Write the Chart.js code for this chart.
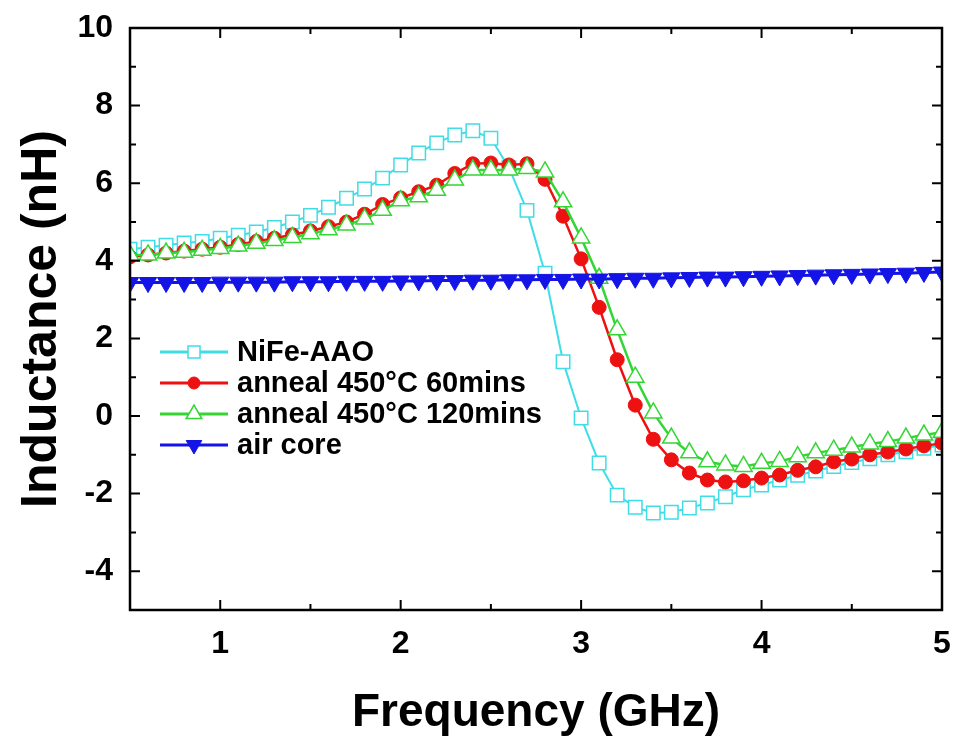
<!DOCTYPE html>
<html>
<head>
<meta charset="utf-8">
<title>Inductance vs Frequency</title>
<script src="https://cdn.jsdelivr.net/npm/chart.js"></script>
<style>
  html, body { margin: 0; padding: 0; background: #fff; }
  #wrap { width: 958px; height: 743px; }
</style>
</head>
<body>
<div id="wrap"><canvas id="inductChart" width="958" height="743"></canvas></div>
<script>
// Frecuencia (GHz)
const freq = [0.5, 0.6, 0.7, 0.8, 0.9, 1.0, 1.1, 1.2, 1.3, 1.4,
              1.5, 1.6, 1.7, 1.8, 1.9, 2.0, 2.1, 2.2, 2.3, 2.4,
              2.5, 2.6, 2.7, 2.8, 2.9, 3.0, 3.1, 3.2, 3.3, 3.4,
              3.5, 3.6, 3.7, 3.8, 3.9, 4.0, 4.1, 4.2, 4.3, 4.4,
              4.5, 4.6, 4.7, 4.8, 4.9, 5.0];

// Inductancia (nH) por muestra
const nifeAAO = [4.30, 4.35, 4.40, 4.46, 4.50, 4.58, 4.66, 4.74, 4.86, 5.00,
                 5.17, 5.38, 5.61, 5.85, 6.13, 6.47, 6.78, 7.04, 7.24, 7.35,
                 7.16, 6.40, 5.30, 3.68, 1.40, -0.05, -1.21, -2.04, -2.35, -2.50,
                 -2.48, -2.37, -2.24, -2.08, -1.90, -1.78, -1.65, -1.53, -1.42, -1.30,
                 -1.20, -1.10, -1.00, -0.92, -0.83, -0.75];

const anneal60 = [4.10, 4.15, 4.20, 4.25, 4.30, 4.35, 4.42, 4.50, 4.58, 4.67,
                  4.77, 4.88, 5.00, 5.20, 5.45, 5.62, 5.78, 5.95, 6.25, 6.50,
                  6.52, 6.47, 6.50, 6.10, 5.15, 4.05, 2.80, 1.45, 0.28, -0.60,
                  -1.13, -1.47, -1.65, -1.70, -1.67, -1.60, -1.52, -1.40, -1.31, -1.18,
                  -1.11, -1.00, -0.93, -0.85, -0.77, -0.70];

const anneal120 = [4.15, 4.15, 4.20, 4.22, 4.27, 4.32, 4.38, 4.45, 4.52, 4.60,
                   4.70, 4.80, 4.92, 5.08, 5.30, 5.55, 5.65, 5.82, 6.08, 6.34,
                   6.34, 6.34, 6.38, 6.29, 5.52, 4.59, 3.55, 2.22, 1.00, 0.08,
                   -0.57, -0.95, -1.18, -1.26, -1.30, -1.22, -1.17, -1.05, -0.95, -0.88,
                   -0.80, -0.72, -0.66, -0.57, -0.49, -0.42];

const airCore = [3.44, 3.44, 3.44, 3.44, 3.44, 3.45, 3.45, 3.45, 3.45, 3.46,
                 3.46, 3.46, 3.47, 3.47, 3.47, 3.48, 3.48, 3.49, 3.49, 3.50,
                 3.50, 3.51, 3.51, 3.52, 3.52, 3.53, 3.53, 3.54, 3.55, 3.55,
                 3.56, 3.57, 3.58, 3.58, 3.59, 3.60, 3.61, 3.62, 3.63, 3.64,
                 3.65, 3.66, 3.67, 3.68, 3.70, 3.71];

const seriesLabels = ['NiFe-AAO', 'anneal 450°C 60mins', 'anneal 450°C 120mins', 'air core'];

// Etiquetas de los ejes
const xTicks = [1, 2, 3, 4, 5];
const xMinorTicks = [1.5, 2.5, 3.5, 4.5];
const yTicks = [-4, -2, 0, 2, 4, 6, 8, 10];
const yMinorTicks = [-5, -3, -1, 1, 3, 5, 7, 9];

function toPoints(values) {
    return freq.map((f, i) => ({ x: f, y: values[i] }));
}

// Dibuja un marcador simple (para la leyenda)
function drawMarker(ctx, style, x, y, r, fill, stroke, lw) {
    ctx.save();
    ctx.beginPath();
    if (style === 'rect') {
        const s = Math.SQRT1_2 * r;
        ctx.rect(x - s, y - s, 2 * s, 2 * s);
    } else if (style === 'circle') {
        ctx.arc(x, y, r, 0, Math.PI * 2);
    } else if (style === 'triangle') {
        ctx.moveTo(x, y - r);
        ctx.lineTo(x + r * 0.866, y + r * 0.5);
        ctx.lineTo(x - r * 0.866, y + r * 0.5);
        ctx.closePath();
    } else if (style === 'triangleDown') {
        ctx.moveTo(x, y + r);
        ctx.lineTo(x - r * 0.866, y - r * 0.5);
        ctx.lineTo(x + r * 0.866, y - r * 0.5);
        ctx.closePath();
    }
    ctx.fillStyle = fill;
    ctx.fill();
    ctx.lineWidth = lw;
    ctx.strokeStyle = stroke;
    ctx.stroke();
    ctx.restore();
}

// Marco con ticks hacia adentro en los cuatro lados
const frameTicks = {
    id: 'frameTicks',
    afterDatasetsDraw(chart) {
        const ctx = chart.ctx;
        const a = chart.chartArea;
        const xs = chart.scales.x;
        const ys = chart.scales.y;
        ctx.save();
        ctx.strokeStyle = '#000';
        ctx.lineWidth = 2.5;
        ctx.lineCap = 'butt';
        ctx.beginPath();
        ctx.rect(a.left, a.top, a.right - a.left, a.bottom - a.top);
        ctx.stroke();

        ctx.lineWidth = 2;
        const major = 10, minor = 6;
        ctx.beginPath();
        xTicks.concat(xMinorTicks).forEach(v => {
            const len = xTicks.includes(v) ? major : minor;
            const px = xs.getPixelForValue(v);
            ctx.moveTo(px, a.bottom); ctx.lineTo(px, a.bottom - len);
            ctx.moveTo(px, a.top); ctx.lineTo(px, a.top + len);
        });
        yTicks.concat(yMinorTicks).forEach(v => {
            const len = yTicks.includes(v) ? major : minor;
            const py = ys.getPixelForValue(v);
            ctx.moveTo(a.left, py); ctx.lineTo(a.left + len, py);
            ctx.moveTo(a.right, py); ctx.lineTo(a.right - len, py);
        });
        ctx.stroke();
        ctx.restore();
    }
};

// Leyenda dentro del área de la gráfica
const insideLegend = {
    id: 'insideLegend',
    afterDraw(chart) {
        const ctx = chart.ctx;
        const x0 = 160, x1 = 228, textX = 237;
        let y = 352;
        ctx.save();
        ctx.font = 'bold 29px "Liberation Sans", Arial, sans-serif';
        ctx.textBaseline = 'middle';
        const order = [3, 2, 1, 0];   // cyan, rojo, verde, azul
        order.forEach(idx => {
            const ds = chart.data.datasets[idx];
            ctx.strokeStyle = ds.borderColor;
            ctx.lineWidth = 3;
            ctx.beginPath();
            ctx.moveTo(x0, y); ctx.lineTo(x1, y);
            ctx.stroke();
            const style = ds.pointStyle === 'triangle' && ds.pointRotation === 180 ? 'triangleDown' : ds.pointStyle;
            drawMarker(ctx, style, (x0 + x1) / 2, y, ds.pointRadius - 1, ds.pointBackgroundColor, ds.pointBorderColor, ds.pointBorderWidth);
            ctx.fillStyle = '#000';
            ctx.fillText(ds.label, textX, y + 1);
            y += 31;
        });
        ctx.restore();
    }
};

const ctx = document.getElementById('inductChart').getContext('2d');
const inductChart = new Chart(ctx, {
    type: 'line',
    data: {
        datasets: [
            {
                label: seriesLabels[3],
                data: toPoints(airCore),
                borderColor: '#1414e6',
                borderWidth: 3,
                pointStyle: 'triangle',
                pointRotation: 180,
                pointRadius: 10,
                pointBackgroundColor: '#1414e6',
                pointBorderColor: '#1414e6',
                pointBorderWidth: 1,
                order: 0
            },
            {
                label: seriesLabels[2],
                data: toPoints(anneal120),
                borderColor: '#33d633',
                borderWidth: 2.5,
                pointStyle: 'triangle',
                pointRadius: 10,
                pointBackgroundColor: '#ffffff',
                pointBorderColor: '#33d633',
                pointBorderWidth: 1.5,
                order: 1
            },
            {
                label: seriesLabels[1],
                data: toPoints(anneal60),
                borderColor: '#ee1111',
                borderWidth: 2.5,
                pointStyle: 'circle',
                pointRadius: 7,
                pointBackgroundColor: '#ee1111',
                pointBorderColor: '#ee1111',
                pointBorderWidth: 1,
                order: 2
            },
            {
                label: seriesLabels[0],
                data: toPoints(nifeAAO),
                borderColor: '#3fdde6',
                borderWidth: 2,
                pointStyle: 'rect',
                pointRadius: 9.5,
                pointBackgroundColor: '#ffffff',
                pointBorderColor: '#3fdde6',
                pointBorderWidth: 1.5,
                order: 3
            }
        ]
    },
    options: {
        responsive: false,
        animation: false,
        devicePixelRatio: 1,
        layout: { padding: { left: 0, top: 28, right: 16, bottom: 0 } },
        plugins: {
            legend: { display: false },
            tooltip: { enabled: false }
        },
        scales: {
            x: {
                type: 'linear',
                min: 0.5,
                max: 5,
                afterBuildTicks: (scale) => { scale.ticks = xTicks.map(v => ({ value: v })); },
                afterFit: (scale) => {
                    scale.height = 133;
                    scale.paddingLeft = 0;
                    scale.paddingRight = 0;
                },
                grid: { display: false, drawTicks: false },
                border: { display: false },
                ticks: {
                    padding: 15,
                    color: '#000',
                    font: { family: '"Liberation Sans", Arial, sans-serif', size: 32, weight: 'bold' },
                    maxRotation: 0
                },
                title: {
                    display: true,
                    text: 'Frequency (GHz)',
                    color: '#000',
                    font: { family: '"Liberation Sans", Arial, sans-serif', size: 46, weight: 'bold', lineHeight: 1 },
                    padding: { top: 0, bottom: 7 }
                }
            },
            y: {
                type: 'linear',
                min: -5,
                max: 10,
                afterBuildTicks: (scale) => { scale.ticks = yTicks.map(v => ({ value: v })); },
                afterFit: (scale) => {
                    scale.width = 130;
                    scale.paddingTop = 0;
                    scale.paddingBottom = 0;
                },
                grid: { display: false, drawTicks: false },
                border: { display: false },
                ticks: {
                    padding: 17,
                    color: '#000',
                    font: { family: '"Liberation Sans", Arial, sans-serif', size: 32, weight: 'bold' }
                },
                title: {
                    display: true,
                    text: 'Inductance (nH)',
                    color: '#000',
                    font: { family: '"Liberation Sans", Arial, sans-serif', size: 50, weight: 'bold', lineHeight: 1 },
                    padding: { top: 17, bottom: 0 }
                }
            }
        }
    },
    plugins: [frameTicks, insideLegend]
});
</script>
</body>
</html>
